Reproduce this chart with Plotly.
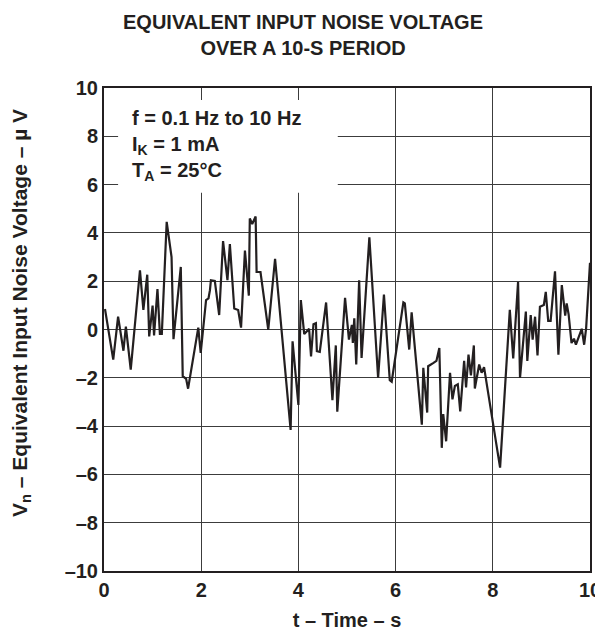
import plotly.graph_objects as go

t_s = [0.02,0.19,0.29,0.40,0.45,0.55,0.74,0.81,0.89,0.93,1.00,1.03,1.10,1.15,1.19,1.29,1.39,1.43,1.58,1.62,
       1.69,1.73,1.94,1.99,2.10,2.15,2.18,2.20,2.28,2.37,2.45,2.54,2.59,2.68,2.76,2.82,2.90,2.98,3.00,3.05,
       3.12,3.14,3.22,3.38,3.52,3.84,3.88,4.00,4.05,4.12,4.17,4.22,4.26,4.31,4.36,4.38,4.44,4.57,4.70,4.77,
       4.80,4.96,5.04,5.10,5.12,5.15,5.19,5.25,5.30,5.46,5.64,5.76,5.88,5.92,6.16,6.19,6.28,6.33,6.54,6.57,
       6.65,6.67,6.78,6.84,6.90,6.95,6.98,7.04,7.12,7.17,7.22,7.28,7.33,7.41,7.45,7.50,7.55,7.61,7.63,7.72,
       7.77,7.82,8.15,8.35,8.42,8.52,8.56,8.68,8.71,8.78,8.82,8.87,8.92,8.97,9.05,9.09,9.14,9.19,9.28,9.35,
       9.42,9.49,9.52,9.56,9.62,9.67,9.71,9.83,9.88,9.92,10.0]
vn_uv = [0.85,-1.25,0.53,-0.88,0.12,-1.66,2.45,0.81,2.27,-0.29,0.99,-0.25,1.67,-0.18,-0.18,4.46,3.0,-0.4,2.59,-1.93,
         -2.04,-2.45,0.08,-0.97,1.22,1.29,1.63,2.04,2.01,0.6,3.66,2.04,3.54,0.87,0.81,0.08,3.27,1.40,4.6,4.37,
         4.68,2.38,2.38,-0.01,2.93,-4.16,-0.49,-3.12,1.22,-0.19,-0.08,0.03,-1.11,0.22,0.26,-0.9,-0.93,1.12,-2.93,-0.66,
         -3.4,1.31,-0.42,0.19,-0.56,0.46,-1.45,2.04,-1.18,3.82,-2.0,1.45,-2.1,-2.16,1.12,1.08,-0.83,0.71,-3.94,-1.59,
         -3.44,-1.52,-1.38,-1.3,-0.77,-4.9,-3.5,-4.63,-1.79,-2.89,-2.34,-2.27,-3.39,-1.3,-2.4,-1.04,-1.9,-0.66,-2.44,-1.45,
         -1.79,-1.56,-5.72,0.81,-1.2,1.97,-2.0,0.74,-1.3,0.6,-0.42,0.53,-1.07,0.94,1.01,1.56,0.36,0.36,2.41,-1.04,
         1.84,0.57,1.08,0.63,-0.56,-0.38,-0.63,0.03,-0.63,0.05,2.76]

x_ticks = [0, 2, 4, 6, 8, 10]
y_ticks = [-10, -8, -6, -4, -2, 0, 2, 4, 6, 8, 10]

title_lines = ["EQUIVALENT INPUT NOISE VOLTAGE", "OVER A 10-S PERIOD"]
cond_lines = ["f = 0.1 Hz to 10 Hz", "I<sub>K</sub> = 1 mA", "T<sub>A</sub> = 25°C"]
x_title = "t – Time – s"
y_title = "V<sub>n</sub> – Equivalent Input Noise Voltage – µ V"

FONT = "Liberation Sans, Arial, sans-serif"
INK = "#231f20"

fig = go.Figure()
fig.add_trace(go.Scatter(x=t_s, y=vn_uv, mode="lines",
                         line=dict(color=INK, width=2.2), hoverinfo="skip", showlegend=False))

# white box behind the conditions text (covers gridlines)
fig.add_shape(type="rect", xref="x", yref="y", x0=0.29, x1=4.81, y0=5.66, y1=9.5,
              fillcolor="white", line=dict(width=0), layer="between")

fig.add_annotation(xref="x", yref="y", x=0.54, y=9.3, xanchor="left", yanchor="top",
                   text="<b>" + "<br>".join(cond_lines) + "</b>", align="left", showarrow=False,
                   font=dict(family=FONT, size=20, color=INK))

# chart title
fig.add_annotation(xref="paper", yref="paper", x=0.41, y=1.11, xanchor="center", yanchor="middle",
                   text="<b>" + "<br>".join(title_lines) + "</b>", align="center", showarrow=False,
                   font=dict(family=FONT, size=20, color=INK))

# y-axis title
fig.add_annotation(xref="paper", yref="paper", x=-0.172, y=0.535, xanchor="center", yanchor="middle",
                   textangle=-90, text="<b>" + y_title + "</b>", showarrow=False,
                   font=dict(family=FONT, size=21, color=INK))

axis_common = dict(showline=True, mirror=True, linewidth=2, linecolor=INK,
                   showgrid=True, gridcolor="#3c3c3c", gridwidth=1, zeroline=False,
                   ticks="", tickfont=dict(family=FONT, size=20, color=INK))

fig.update_layout(
    width=603, height=623,
    margin=dict(l=96, r=21, t=80, b=60, autoexpand=False),
    paper_bgcolor="white", plot_bgcolor="white",
    xaxis=dict(range=[0, 10], tickvals=x_ticks, ticktext=[f"<b>{v}</b>" for v in x_ticks],
               title=dict(text="<b>" + x_title + "</b>", font=dict(family=FONT, size=20, color=INK), standoff=15),
               automargin=False, **axis_common),
    yaxis=dict(range=[-10, 10], tickvals=y_ticks,
               ticktext=[f"<b>{'–' if v < 0 else ''}{abs(v)}</b>" for v in y_ticks],
               automargin=False, **axis_common),
)

fig.write_html("out.html")
